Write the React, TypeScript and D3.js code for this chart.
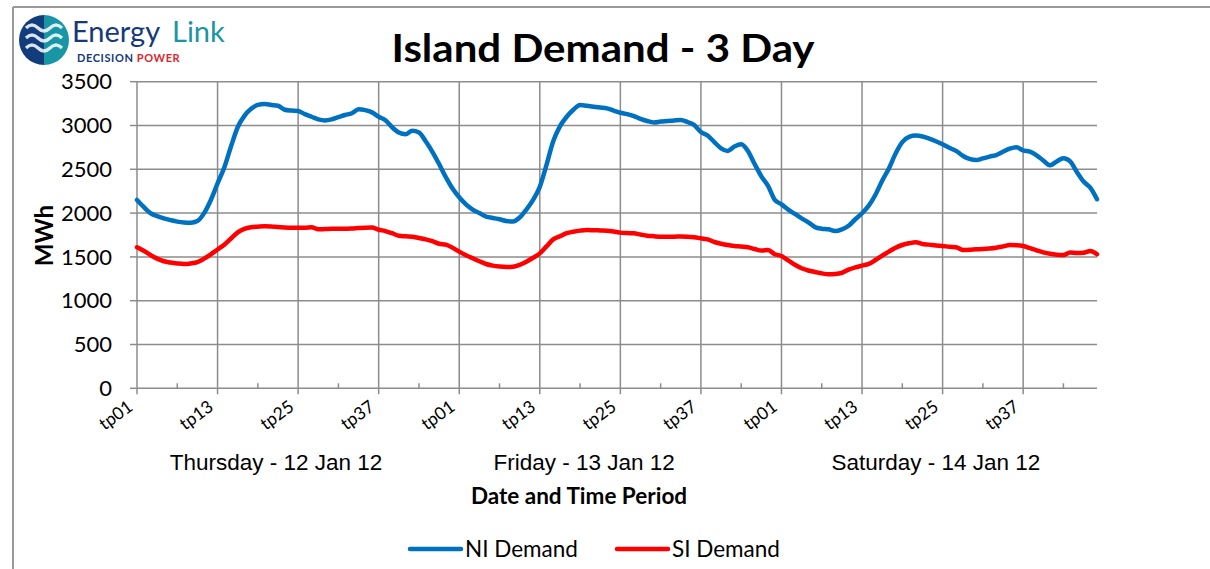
import * as React from "react";
import * as d3 from "d3";

// half-hour trading periods, three days of 48
const days = ["Thursday - 12 Jan 12", "Friday - 13 Jan 12", "Saturday - 14 Jan 12"];
const periodsPerDay = 48;
const tickPeriods = ["tp01", "tp13", "tp25", "tp37"];
const yTicks = [0, 500, 1000, 1500, 2000, 2500, 3000, 3500];

const niThu = [2150, 2070, 2000, 1965, 1940, 1920, 1903, 1893, 1890, 1910, 2000, 2150, 2340, 2520, 2760, 2980, 3110, 3190, 3235, 3245, 3235, 3225, 3180, 3170, 3165, 3130, 3100, 3070, 3058, 3070, 3095, 3120, 3140, 3185, 3175, 3150, 3100, 3060, 2980, 2920, 2900, 2940, 2920, 2820, 2700, 2560, 2410, 2280];
const niFri = [2180, 2100, 2040, 2000, 1960, 1945, 1930, 1910, 1905, 1950, 2040, 2150, 2300, 2550, 2820, 2990, 3100, 3180, 3235, 3225, 3215, 3205, 3196, 3170, 3146, 3130, 3108, 3075, 3051, 3035, 3045, 3051, 3058, 3063, 3040, 3006, 2925, 2885, 2810, 2740, 2710, 2760, 2785, 2710, 2560, 2420, 2310, 2150];
const niSat = [2100, 2040, 1990, 1940, 1895, 1840, 1822, 1815, 1795, 1815, 1855, 1930, 1998, 2085, 2210, 2370, 2510, 2680, 2810, 2870, 2885, 2875, 2850, 2820, 2785, 2745, 2710, 2655, 2620, 2606, 2625, 2645, 2663, 2700, 2735, 2751, 2715, 2701, 2660, 2600, 2545, 2590, 2626, 2590, 2470, 2360, 2290, 2158];

const siThu = [1610, 1570, 1522, 1480, 1450, 1435, 1425, 1419, 1425, 1440, 1480, 1530, 1585, 1640, 1710, 1780, 1820, 1838, 1845, 1850, 1848, 1840, 1836, 1834, 1834, 1834, 1838, 1815, 1818, 1822, 1822, 1822, 1825, 1830, 1834, 1835, 1810, 1795, 1770, 1742, 1735, 1731, 1715, 1700, 1680, 1650, 1640, 1605];
const siFri = [1560, 1520, 1484, 1450, 1419, 1400, 1390, 1385, 1388, 1410, 1445, 1490, 1540, 1620, 1700, 1735, 1770, 1788, 1800, 1807, 1805, 1802, 1799, 1790, 1777, 1772, 1769, 1755, 1742, 1736, 1731, 1731, 1731, 1732, 1731, 1725, 1712, 1700, 1670, 1650, 1635, 1625, 1618, 1610, 1590, 1572, 1578, 1530];
const siSat = [1510, 1460, 1410, 1370, 1345, 1328, 1312, 1302, 1305, 1318, 1355, 1380, 1400, 1420, 1465, 1515, 1560, 1605, 1636, 1655, 1666, 1648, 1640, 1630, 1625, 1615, 1610, 1580, 1582, 1587, 1590, 1596, 1605, 1620, 1636, 1634, 1625, 1600, 1575, 1552, 1535, 1525, 1522, 1550, 1545, 1548, 1567, 1530];

const niDemand = [...niThu, ...niFri, ...niSat];
const siDemand = [...siThu, ...siFri, ...siSat];

const series = [
  {name: "NI Demand", color: "#0070C0", values: niDemand},
  {name: "SI Demand", color: "#FF0000", values: siDemand},
];

// day labels sit a little left of each day's centre, as in the source (period index)
const dayLabelAt = [20.7, 66.6, 119];

const calibri = "Lato, 'Open Sans', sans-serif";
const arial = "'Liberation Sans', Arial, sans-serif";
const gridColor = "#8c8c8c";

function Logo() {
  return (
    <g>
      <clipPath id="logoClip">
        <circle cx={44} cy={40} r={25} />
      </clipPath>
      <g clipPath="url(#logoClip)">
        <rect x={19} y={15} width={25} height={50} fill="#123d7c" />
        <rect x={44} y={15} width={25} height={50} fill="#1996a6" />
        {[28, 38, 48].map((yy) => (
          <path key={yy} d={`M26,${yy} q6,-6 12,0 t12,0 t12,0`} fill="none" stroke="#fff" strokeWidth={3.2} opacity={0.85} />
        ))}
      </g>
      <text x={72} y={42} fontFamily={calibri} fontSize={29} fill="#15397a">Energy</text>
      <text x={172} y={42} fontFamily={calibri} fontSize={29} fill="#1996a6">Link</text>
      <text x={77} y={62} fontFamily={calibri} fontSize={11} fontWeight="bold" fill="#15397a" letterSpacing={0.6}>
        DECISION <tspan fill="#e0242b">POWER</tspan>
      </text>
    </g>
  );
}

export default function App() {
  const width = 1210;
  const height = 569;
  const left = 137;
  const right = 1097;
  const top = 81.7;
  const bottom = 388.3;
  const n = niDemand.length;

  const x = d3.scaleLinear().domain([0, n - 1]).range([left, right]);
  const y = d3.scaleLinear().domain([0, 3500]).range([bottom, top]);

  const line = d3.line<number>()
    .x((_, i) => x(i))
    .y((d) => y(d))
    .curve(d3.curveMonotoneX);

  const majors = d3.range(0, n, 12);
  const minors = d3.range(6, n, 12);

  return (
    <svg width={width} height={height} style={{position: "absolute", left: 0, top: 0, background: "#fff"}}>
      <rect width={width} height={height} fill="#fff" />
      {/* chart frame */}
      <line x1={13} y1={7} x2={width} y2={7} stroke="#999" strokeWidth={2} />
      <line x1={13} y1={7} x2={13} y2={height} stroke="#999" strokeWidth={2} />

      <Logo />

      <text x={603} y={62} textAnchor="middle" fontFamily={calibri} fontWeight="bold" fontSize={39}
        textLength={423} lengthAdjust="spacingAndGlyphs" fill="#000">
        Island Demand - 3 Day
      </text>

      {/* horizontal gridlines */}
      {yTicks.filter((t) => t > 0).map((t) => (
        <line key={t} x1={left} x2={right} y1={y(t)} y2={y(t)} stroke={gridColor} strokeWidth={1.5} />
      ))}
      {/* vertical gridlines at major periods */}
      {majors.filter((i) => i > 0).map((i) => (
        <line key={i} x1={x(i)} x2={x(i)} y1={top} y2={bottom + 6} stroke={gridColor} strokeWidth={1.5} />
      ))}
      {minors.map((i) => (
        <line key={i} x1={x(i)} x2={x(i)} y1={bottom - 5} y2={bottom} stroke={gridColor} strokeWidth={1.5} />
      ))}
      {/* axes */}
      <line x1={left} x2={right} y1={bottom} y2={bottom} stroke={gridColor} strokeWidth={1.5} />
      <line x1={left} x2={left} y1={top} y2={bottom + 6} stroke={gridColor} strokeWidth={1.5} />
      {yTicks.map((t) => (
        <g key={t}>
          <line x1={left - 7} x2={left} y1={y(t)} y2={y(t)} stroke={gridColor} strokeWidth={1.5} />
          <text x={112} y={y(t)} dy="0.35em" textAnchor="end" fontFamily={calibri} fontSize={22} fill="#000">{t}</text>
        </g>
      ))}

      {/* x tick labels */}
      {majors.map((i) => (
        <text key={i} transform={`translate(${x(i) - 3},${bottom + 21}) rotate(-36)`} textAnchor="end"
          fontFamily={calibri} fontSize={17.5} fill="#000">
          {tickPeriods[(i % periodsPerDay) / 12]}
        </text>
      ))}
      {days.map((d, k) => (
        <text key={d} x={x(dayLabelAt[k])} y={470} textAnchor="middle"
          fontFamily={arial} fontSize={22.5} fill="#000">{d}</text>
      ))}
      <text x={579} y={504} textAnchor="middle" fontFamily={calibri} fontWeight="bold" fontSize={22.5} fill="#000">
        Date and Time Period
      </text>
      <text transform={`translate(53,235.5) rotate(-90)`} textAnchor="middle" fontFamily={calibri}
        fontWeight="bold" fontSize={24} fill="#000">MWh</text>

      {/* series */}
      {series.map((s) => (
        <path key={s.name} d={line(s.values) || ""} fill="none" stroke={s.color} strokeWidth={4.5}
          strokeLinejoin="round" strokeLinecap="round" />
      ))}

      {/* legend */}
      {series.map((s, k) => (
        <g key={s.name} transform={`translate(${410 + k * 207},549)`}>
          <line x1={0} x2={51} y1={0} y2={0} stroke={s.color} strokeWidth={4.5} strokeLinecap="round" />
          <text x={55} y={0} dy="0.35em" fontFamily={calibri} fontSize={22.5} fill="#000">{s.name}</text>
        </g>
      ))}
    </svg>
  );
}
